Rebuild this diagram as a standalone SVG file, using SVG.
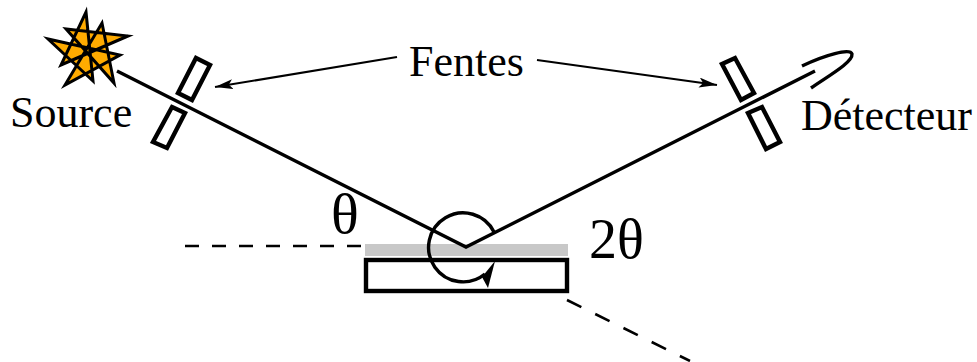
<svg xmlns="http://www.w3.org/2000/svg" width="977" height="362" viewBox="0 0 977 362">
<style>
text{font-family:"Liberation Serif","Times New Roman",serif;font-size:44px;fill:#000}
.g{font-size:56px}
.l{fill:none;stroke:#000;stroke-width:3.4}
.s{fill:#fff;stroke:#000;stroke-width:4.4}
.d{fill:none;stroke:#000;stroke-width:2.6}
.a{fill:none;stroke:#000;stroke-width:2.2;marker-end:url(#h)}
</style>
<defs><marker id="h" markerUnits="userSpaceOnUse" markerWidth="20" markerHeight="12" refX="18" refY="5" orient="auto"><path d="M0,0L18,5L0,10L4,5Z" fill="#000"/></marker></defs>
<rect x="0" y="0" width="977" height="362" fill="#fff"/>
<g id="sample"><rect x="365" y="244" width="203" height="12" fill="#c8c8c8"/><rect class="s" x="366" y="260" width="201" height="31"/></g>
<g id="source"><path d="M86,12L93,81L48,39L120,55L65,85L102,23L114,83L66,29L128,36L61,65Z" fill="#ffab00" stroke="#000" stroke-width="3" stroke-linejoin="miter" stroke-miterlimit="6"/><text x="10" y="127">Source</text></g>
<g id="slits-left"><path class="s" d="M196,58L210,65L192,100L178,93Z"/><path class="s" d="M172,107L185,113L167,148L153,142Z"/></g>
<g id="slits-right"><path class="s" d="M722,64L735,58L754,93L741,100Z"/><path class="s" d="M748,113L762,107L780,142L766,149Z"/></g>
<g id="detector"><path class="l" d="M802,66C825,55 850,48 852,54C853,62 830,75 811,88"/><text x="801" y="130">Détecteur</text></g>
<g id="fentes"><text x="409" y="76">Fentes</text></g>
<g id="theta"><text class="g" x="331" y="233" style="font-size:58px">θ</text></g>
<g id="two-theta"><text class="g" x="589" y="258">2θ</text></g>
<g id="connectors">
<path class="l" d="M117,71L466,247L815,71"/>
<path class="d" stroke-dasharray="14 13" d="M185,246H361"/>
<path class="d" stroke-dasharray="16 15.5" d="M567,300L690,361"/>
<path class="a" d="M397,57L215,87"/>
<path class="a" d="M537,60L717,85"/>
<path class="l" d="M494,232A34.5,34.5 0 1 0 485,274"/>
<path d="M495,261L482,277L488,288Z" fill="#000"/>
</g>
</svg>
